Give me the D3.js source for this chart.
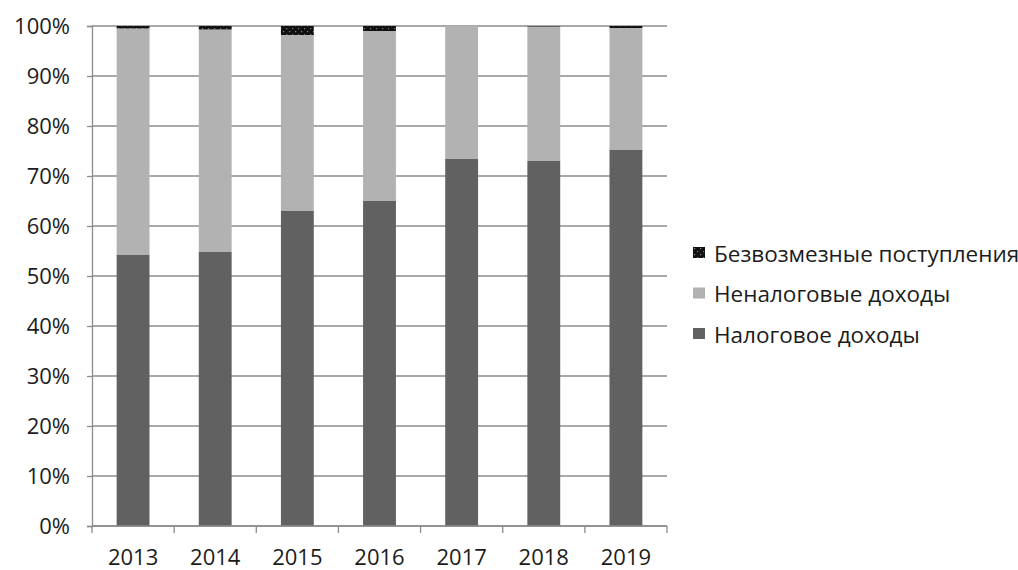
<!DOCTYPE html>
<html>
<head>
<meta charset="utf-8">
<script src="https://cdn.jsdelivr.net/npm/d3@7"></script>
<style>
  body { margin: 0; background: #fff; }
  svg text { font-family: "Open Sans", sans-serif; fill: #1c1c1c; }
</style>
</head>
<body>
<div id="chart"></div>
<script>
// ! Data
var years = ["2013", "2014", "2015", "2016", "2017", "2018", "2019"];
var tax_income = [54.3, 54.8, 63.0, 65.0, 73.4, 73.0, 75.2];
var nontax_income = [45.2, 44.5, 35.2, 34.0, 26.6, 26.9, 24.4];
var grants = [0.5, 0.7, 1.8, 1.0, 0.0, 0.1, 0.4];
var series_names = ["Налоговое доходы", "Неналоговые доходы", "Безвозмезные поступления"];
var y_ticks = [0, 10, 20, 30, 40, 50, 60, 70, 80, 90, 100];

var width = 1018, height = 570;
var margin = { left: 92, right: 351, top: 26, bottom: 44 };

var svg = d3.select("#chart").append("svg")
  .attr("width", width)
  .attr("height", height);

// speckled black fill for grants
var defs = svg.append("defs");
var pat = defs.append("pattern")
  .attr("id", "speckle")
  .attr("patternUnits", "userSpaceOnUse")
  .attr("width", 6).attr("height", 6);
pat.append("rect").attr("width", 6).attr("height", 6).attr("fill", "#111");
pat.append("rect").attr("x", 1).attr("y", 1).attr("width", 1.2).attr("height", 1.2).attr("fill", "#888");
pat.append("rect").attr("x", 4).attr("y", 4).attr("width", 1.2).attr("height", 1.2).attr("fill", "#777");

var x = d3.scaleBand()
  .domain(years)
  .range([margin.left, width - margin.right])
  .paddingInner(0.6)
  .paddingOuter(0.3);

var x_cat = d3.scaleBand()
  .domain(years)
  .range([margin.left, width - margin.right]);

var y = d3.scaleLinear()
  .domain([0, 100])
  .range([height - margin.bottom, margin.top]);

// gridlines
svg.append("g")
  .selectAll("line")
  .data(y_ticks)
  .enter()
  .append("line")
  .attr("x1", margin.left)
  .attr("x2", width - margin.right)
  .attr("y1", function(d) { return y(d); })
  .attr("y2", function(d) { return y(d); })
  .attr("stroke", "#8c8c8c")
  .attr("stroke-width", 1.3);

// stacked data
var stack_data = years.map(function(yr, i) {
  return { year: yr, tax: tax_income[i], nontax: nontax_income[i], grant: grants[i] };
});
var stacked = d3.stack().keys(["tax", "nontax", "grant"])(stack_data);
var fills = ["#616161", "#b2b2b2", "url(#speckle)"];

svg.append("g")
  .selectAll("g")
  .data(stacked)
  .enter()
  .append("g")
  .attr("fill", function(d, i) { return fills[i]; })
  .selectAll("rect")
  .data(function(d) { return d; })
  .enter()
  .append("rect")
  .attr("x", function(d) { return x(d.data.year); })
  .attr("y", function(d) { return y(d[1]); })
  .attr("width", x.bandwidth())
  .attr("height", function(d) { return y(d[0]) - y(d[1]); });

// y axis
var yAxis = svg.append("g")
  .attr("transform", "translate(" + margin.left + ",0)")
  .call(d3.axisLeft(y).tickValues(y_ticks).tickSize(5).tickPadding(17)
    .tickFormat(function(d) { return d + "%"; }));
yAxis.selectAll("line, path").attr("stroke", "#8c8c8c").attr("stroke-width", 1.3);
yAxis.selectAll("text").style("font-size", "22px").style("fill", "#1c1c1c")
  .style("font-family", "'Open Sans', sans-serif");

// x axis with ticks at category boundaries
var xAxis = svg.append("g")
  .attr("transform", "translate(0," + (height - margin.bottom) + ")");
xAxis.append("line")
  .attr("x1", margin.left).attr("x2", width - margin.right)
  .attr("stroke", "#8c8c8c").attr("stroke-width", 1.3);
xAxis.selectAll(".bt")
  .data(years.concat(["end"]))
  .enter()
  .append("line")
  .attr("class", "bt")
  .attr("x1", function(d, i) { return i < years.length ? x_cat(d) : width - margin.right; })
  .attr("x2", function(d, i) { return i < years.length ? x_cat(d) : width - margin.right; })
  .attr("y1", 0).attr("y2", 7)
  .attr("stroke", "#8c8c8c").attr("stroke-width", 1.3);
xAxis.selectAll("text")
  .data(years)
  .enter()
  .append("text")
  .attr("x", function(d) { return x_cat(d) + x_cat.bandwidth() / 2; })
  .attr("y", 39)
  .attr("text-anchor", "middle")
  .style("font-size", "22px")
  .text(function(d) { return d; });

// legend (top entry = grants)
var legend_items = [
  { name: series_names[2], fill: fills[2] },
  { name: series_names[1], fill: fills[1] },
  { name: series_names[0], fill: fills[0] }
];
var legend = svg.append("g").attr("transform", "translate(693,253)");
var rows = legend.selectAll("g")
  .data(legend_items)
  .enter()
  .append("g")
  .attr("transform", function(d, i) { return "translate(0," + (i * 40.5) + ")"; });
rows.append("rect")
  .attr("x", 0).attr("y", -6)
  .attr("width", 12).attr("height", 11)
  .attr("fill", function(d) { return d.fill; });
rows.append("text")
  .attr("x", 21).attr("y", 1)
  .attr("dy", "0.35em")
  .style("font-size", "22.5px")
  .text(function(d) { return d.name; });
</script>
</body>
</html>
